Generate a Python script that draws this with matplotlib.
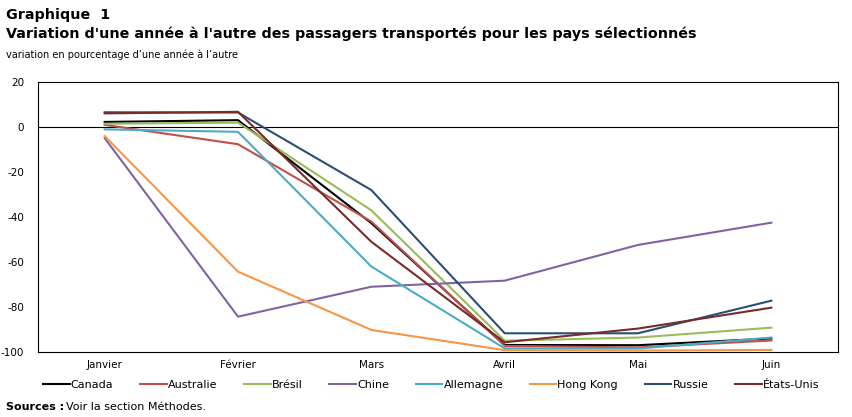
import matplotlib
matplotlib.use("Agg")
import matplotlib.pyplot as plt

months = ["Janvier", "Février", "Mars", "Avril", "Mai", "Juin"]

canada = [2.3, 3.1, -42.7, -96.9, -97.0, -94.0]
australie = [1.0, -7.6, -42.0, -97.3, -98.0, -94.9]
bresil = [1.5, 2.0, -37.0, -95.0, -93.6, -89.2]
chine = [-4.9, -84.3, -71.0, -68.3, -52.4, -42.5]
allemagne = [-1.0, -2.1, -62.0, -98.4, -98.5, -93.6]
hong_kong = [-4.0, -64.3, -90.2, -99.2, -99.4, -99.1]
russie = [6.6, 6.5, -28.0, -91.7, -91.7, -77.2]
etats_unis = [6.1, 6.8, -51.0, -95.7, -89.6, -80.3]

series = [
    ("Canada", canada, "#000000"),
    ("Australie", australie, "#c0504d"),
    ("Brésil", bresil, "#9bbb59"),
    ("Chine", chine, "#8064a2"),
    ("Allemagne", allemagne, "#4bacc6"),
    ("Hong Kong", hong_kong, "#f79646"),
    ("Russie", russie, "#2c4d75"),
    ("États-Unis", etats_unis, "#772c2a"),
]

plt.rcParams["font.family"] = ["DejaVu Sans"]
plt.rcParams["axes.unicode_minus"] = False

fig = plt.figure(figsize=(8.52, 4.17), dpi=100)
ax = fig.add_axes([0.0446, 0.156, 0.939, 0.647])

x = list(range(len(months)))
for name, vals, col in series:
    ax.plot(x, vals, color=col, lw=1.5, label=name)

ax.axhline(0, color="black", lw=0.8, zorder=0)
ax.set_xlim(-0.5, len(months) - 0.5)
ax.set_ylim(-100, 20)
ax.set_yticks(range(-100, 21, 20))
ax.set_xticks(x)
ax.set_xticklabels(months)
ax.tick_params(axis="both", length=0, labelsize=7.5, pad=6)
ax.tick_params(axis="y", pad=10)
for s in ax.spines.values():
    s.set_linewidth(0.8)

fig.text(0.007, 0.965, "Graphique  1", fontsize=10.3, fontweight="bold", va="center")
fig.text(0.007, 0.92, "Variation d'une année à l'autre des passagers transportés pour les pays sélectionnés",
         fontsize=10.3, fontweight="bold", va="center")
fig.text(0.007, 0.868, "variation en pourcentage d\u2019une année à l\u2019autre", fontsize=7, va="center")

fig.legend(loc="center", bbox_to_anchor=(0.506, 0.077), ncol=8, frameon=False, fontsize=8,
           handlelength=2.4, handletextpad=0.1, columnspacing=2.4)

fig.text(0.007, 0.023, "Sources :", fontsize=8, fontweight="bold", va="center",
         family=["Liberation Sans Narrow", "DejaVu Sans"])
fig.text(0.078, 0.023, "Voir la section Méthodes.", fontsize=8, va="center",
         family=["Liberation Sans Narrow", "DejaVu Sans"])

fig.savefig("out.png", dpi=100)
